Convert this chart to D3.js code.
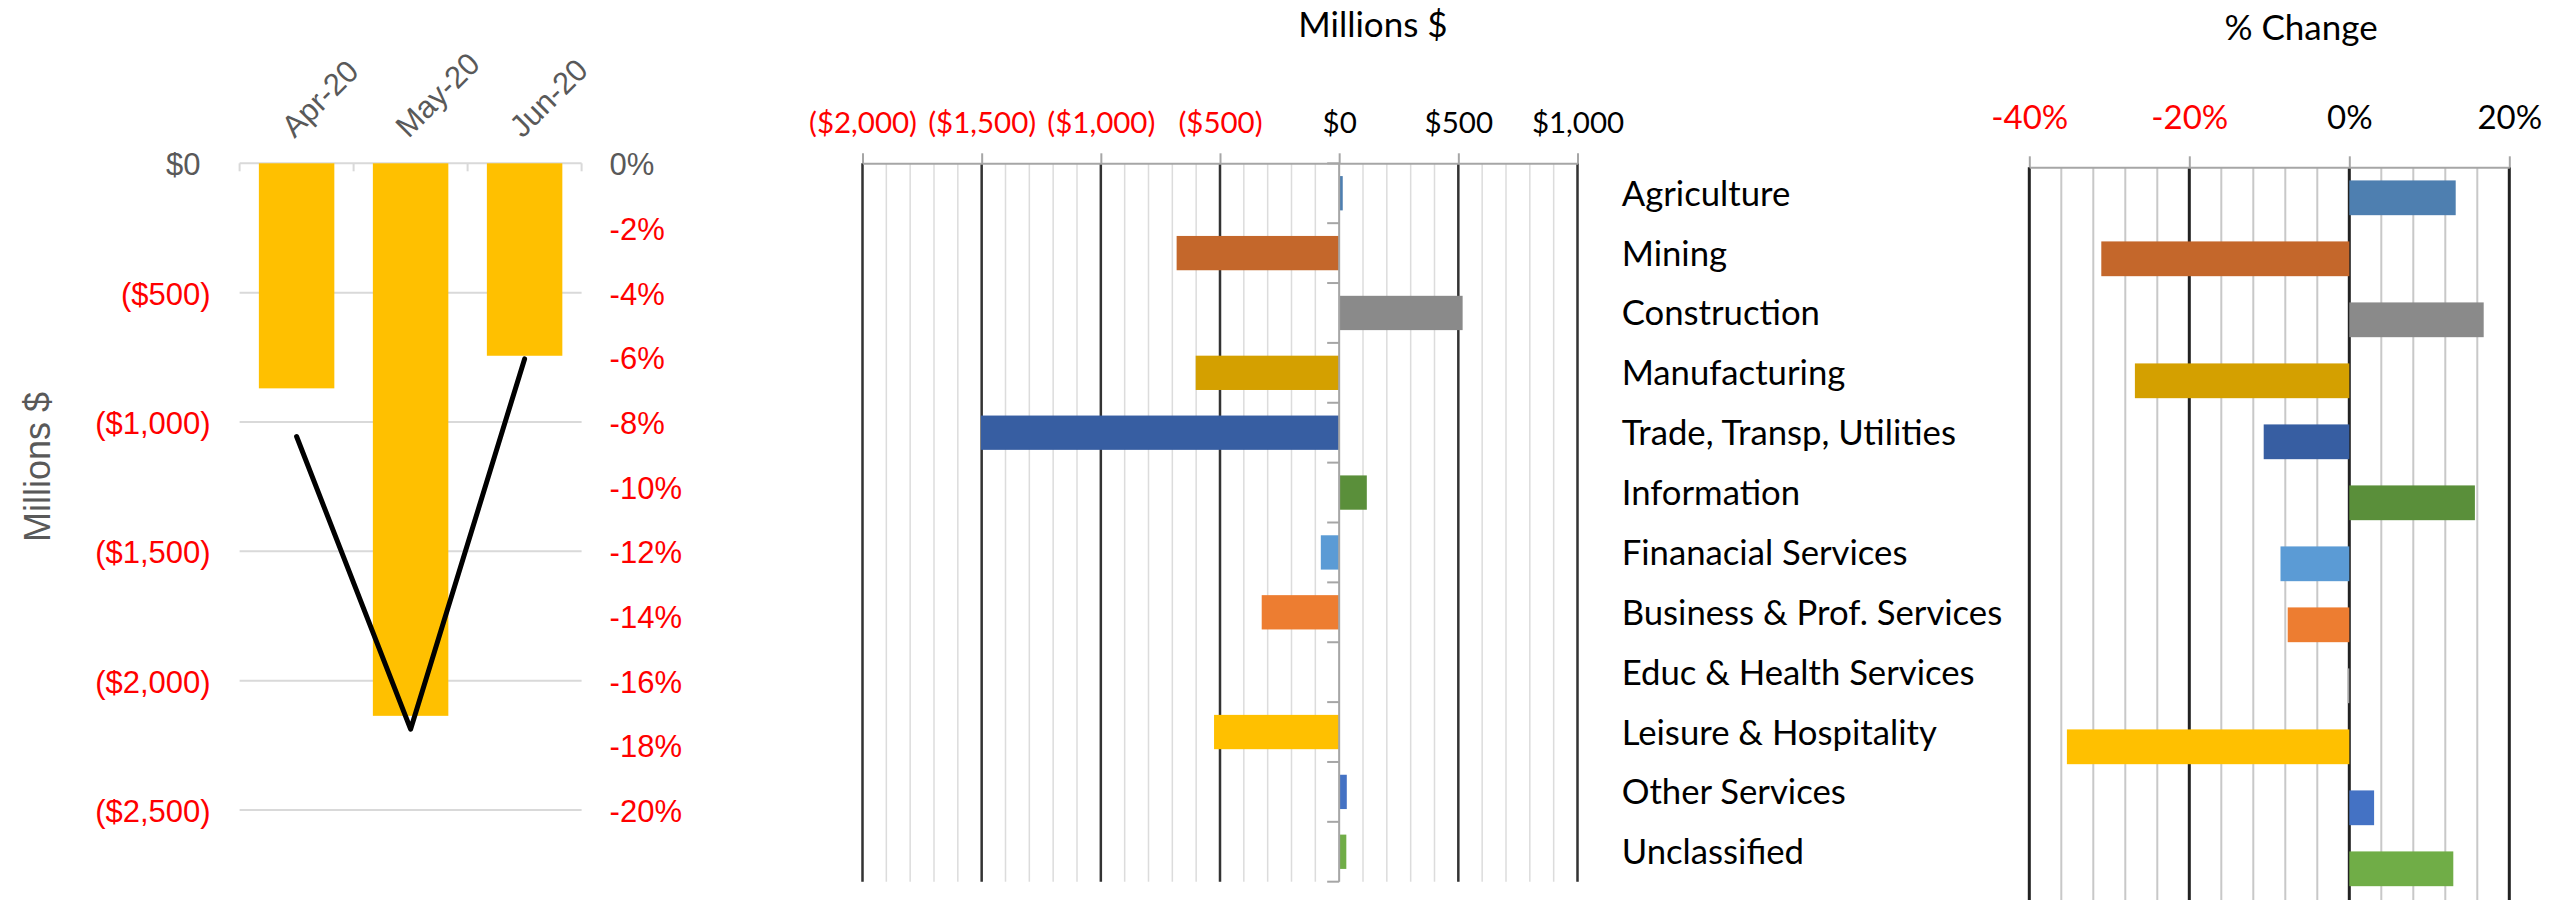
<!DOCTYPE html>
<html>
<head>
<meta charset="utf-8">
<script src="https://cdn.jsdelivr.net/npm/d3@7"></script>
<style>
  body { margin: 0; background: #fff; }
  svg { display: block; }
</style>
</head>
<body>
<div id="chart"></div>
<script>
// ---- data ----
var months = ["Apr-20", "May-20", "Jun-20"];
var monthChange = [-870, -2136, -744];      // millions $
var monthPct = [-8.45, -17.5, -6.05];        // % change
var monthTicks = [0, -500, -1000, -1500, -2000, -2500];
var monthPctTicks = [0, -2, -4, -6, -8, -10, -12, -14, -16, -18, -20];

var industries = ["Agriculture", "Mining", "Construction", "Manufacturing",
  "Trade, Transp, Utilities", "Information", "Finanacial Services",
  "Business & Prof. Services", "Educ & Health Services", "Leisure & Hospitality",
  "Other Services", "Unclassified"];
var industryChange = [15, -682, 518, -602, -1503, 116, -77, -325, 0, -525, 32, 30];
var industryPct = [13.3, -31.0, 16.8, -26.8, -10.7, 15.7, -8.6, -7.7, -0.2, -35.3, 3.1, 13.0];
var industryColors = ["#4e7fb0", "#c4672b", "#8a8a8a", "#d4a000", "#375ea2", "#5a8f3a",
  "#5b9bd5", "#ed7d31", "#a5a5a5", "#ffc000", "#4472c4", "#70ad47"];
var changeTicks = [-2000, -1500, -1000, -500, 0, 500, 1000];
var pctTicks = [-40, -20, 0, 20];

var W = 2552, H = 900;
var red = "#ff0000", grey = "#595959";
var calibri = "Lato, 'Open Sans', sans-serif";
var arial = "'Liberation Sans', Arial, sans-serif";

var money = function (v) {
  var s = "$" + d3.format(",")(Math.abs(v));
  return v < 0 ? "(" + s + ")" : s;
};

var svg = d3.select("#chart").append("svg")
  .attr("width", W).attr("height", H)
  .style("background", "#fff");

// ================= left: monthly change =================
var left = { x0: 239.6, x1: 581.6, y0: 163.3, y1: 810 };
var lx = d3.scaleBand().domain(months).range([left.x0, left.x1])
  .paddingInner(0.338).paddingOuter(0.169);
var ly = d3.scaleLinear().domain([0, -2500]).range([left.y0, left.y1]);
var ly2 = d3.scaleLinear().domain([0, -20]).range([left.y0, left.y1]);

var lg = svg.append("g");

lg.selectAll(".lgrid").data(monthTicks).enter().append("line")
  .attr("x1", left.x0).attr("x2", left.x1)
  .attr("y1", d => ly(d)).attr("y2", d => ly(d))
  .style("stroke", "#d9d9d9").style("stroke-width", 2);

// category tick marks on the top axis
lg.selectAll(".ltick").data(d3.range(months.length + 1)).enter().append("line")
  .attr("x1", i => left.x0 + i * lx.step()).attr("x2", i => left.x0 + i * lx.step())
  .attr("y1", left.y0).attr("y2", left.y0 + 8)
  .style("stroke", "#d9d9d9").style("stroke-width", 2);

lg.selectAll(".lbar").data(monthChange).enter().append("rect")
  .attr("x", (d, i) => lx(months[i]))
  .attr("width", lx.bandwidth())
  .attr("y", ly(0))
  .attr("height", d => ly(d) - ly(0))
  .style("fill", "#ffc000");

var line = d3.line()
  .x((d, i) => lx(months[i]) + lx.bandwidth() / 2)
  .y(d => ly2(d));
lg.append("path").datum(monthPct)
  .attr("d", line)
  .style("fill", "none").style("stroke", "#000")
  .style("stroke-width", 5)
  .style("stroke-linejoin", "round").style("stroke-linecap", "round");

var laxis = lg.append("g").attr("transform", "translate(" + left.x0 + ",0)")
  .call(d3.axisLeft(ly).tickValues(monthTicks).tickSize(0).tickPadding(29).tickFormat(money));
laxis.select(".domain").remove();
laxis.selectAll("text")
  .attr("font-family", arial).attr("font-size", 31).attr("dy", "0.37em")
  .attr("dx", d => d < 0 ? 0 : -10)
  .style("fill", d => d < 0 ? red : grey);

var raxis = lg.append("g").attr("transform", "translate(" + left.x1 + ",0)")
  .call(d3.axisRight(ly2).tickValues(monthPctTicks).tickSize(0).tickPadding(28)
    .tickFormat(d => d + "%"));
raxis.select(".domain").remove();
raxis.selectAll("text")
  .attr("font-family", arial).attr("font-size", 31).attr("dy", "0.37em")
  .style("fill", d => d < 0 ? red : grey);

lg.selectAll(".mlabel").data(months).enter().append("text")
  .attr("transform", d => "translate(" + (lx(d) + lx.bandwidth() / 2 - 2) + ",139) rotate(-45)")
  .attr("font-family", arial).attr("font-size", 31)
  .style("fill", grey)
  .text(d => d);

lg.append("text")
  .attr("transform", "translate(50,467) rotate(-90)")
  .attr("text-anchor", "middle")
  .attr("font-family", arial).attr("font-size", 36)
  .style("fill", grey)
  .text("Millions $");

// ================= middle: change by industry =================
var mid = { x0: 862.5, x1: 1577.5, y0: 163.3, y1: 881.7 };
var mx = d3.scaleLinear().domain([-2000, 1000]).range([mid.x0, mid.x1]);
var my = d3.scaleBand().domain(industries).range([mid.y0, mid.y1])
  .paddingInner(0.427).paddingOuter(0.2135);

var mg = svg.append("g");

mg.selectAll(".mminor").data(d3.range(-2000, 1001, 100)).enter().append("line")
  .attr("x1", d => mx(d)).attr("x2", d => mx(d))
  .attr("y1", mid.y0).attr("y2", mid.y1)
  .style("stroke", "#dcdcdc").style("stroke-width", 1.5);
mg.selectAll(".mmajor").data(changeTicks.filter(d => d !== 0)).enter().append("line")
  .attr("x1", d => mx(d)).attr("x2", d => mx(d))
  .attr("y1", mid.y0).attr("y2", mid.y1)
  .style("stroke", "#333").style("stroke-width", 2.5);

mg.selectAll(".mbar").data(industryChange).enter().append("rect")
  .attr("x", d => mx(Math.min(0, d)))
  .attr("width", d => Math.abs(mx(d) - mx(0)))
  .attr("y", (d, i) => my(industries[i]))
  .attr("height", my.bandwidth())
  .style("fill", (d, i) => industryColors[i]);

// vertical category axis at zero, ticks to the left between categories
mg.append("line")
  .attr("x1", mx(0)).attr("x2", mx(0)).attr("y1", mid.y0).attr("y2", mid.y1)
  .style("stroke", "#a6a6a6").style("stroke-width", 2);
mg.selectAll(".ctick").data(d3.range(industries.length + 1)).enter().append("line")
  .attr("x1", mx(0) - 12).attr("x2", mx(0))
  .attr("y1", i => mid.y0 + i * my.step()).attr("y2", i => mid.y0 + i * my.step())
  .style("stroke", "#a6a6a6").style("stroke-width", 2);

var maxis = mg.append("g").attr("transform", "translate(0," + mid.y0 + ")")
  .call(d3.axisTop(mx).tickValues(changeTicks).tickSize(10).tickSizeOuter(0)
    .tickPadding(20).tickFormat(money));
maxis.select(".domain").style("stroke", "#a6a6a6").style("stroke-width", 2);
maxis.selectAll(".tick line").style("stroke", "#a6a6a6").style("stroke-width", 2);
maxis.selectAll("text")
  .attr("font-family", calibri).attr("font-size", 29.5)
  .style("fill", d => d < 0 ? red : "#000");

mg.selectAll(".clabel").data(industries).enter().append("text")
  .attr("x", 1621.7)
  .attr("y", d => my(d) + my.bandwidth() / 2)
  .attr("dy", "0.36em")
  .attr("font-family", calibri).attr("font-size", 34.7)
  .style("fill", "#000")
  .text(d => d);

mg.append("text")
  .attr("x", 1373).attr("y", 37)
  .attr("text-anchor", "middle")
  .attr("font-family", calibri).attr("font-size", 35)
  .style("fill", "#000")
  .text("Millions $");

// ================= right: % change by industry =================
var rt = { x0: 2029.3, x1: 2509.3, y0: 167.3, y1: 899.3 };
var px = d3.scaleLinear().domain([-40, 20]).range([rt.x0, rt.x1]);
var py = d3.scaleBand().domain(industries).range([rt.y0, rt.y1])
  .paddingInner(0.43).paddingOuter(0.215);

var rg = svg.append("g");

rg.selectAll(".pminor").data(d3.range(-40, 21, 4)).enter().append("line")
  .attr("x1", d => px(d)).attr("x2", d => px(d))
  .attr("y1", rt.y0).attr("y2", H)
  .style("stroke", "#c8c8c8").style("stroke-width", 2);
rg.selectAll(".pmajor").data(pctTicks).enter().append("line")
  .attr("x1", d => px(d)).attr("x2", d => px(d))
  .attr("y1", rt.y0).attr("y2", H)
  .style("stroke", "#222").style("stroke-width", 3);

rg.selectAll(".pbar").data(industryPct).enter().append("rect")
  .attr("x", d => px(Math.min(0, d)))
  .attr("width", d => Math.abs(px(d) - px(0)))
  .attr("y", (d, i) => py(industries[i]))
  .attr("height", py.bandwidth())
  .style("fill", (d, i) => industryColors[i]);

var paxis = rg.append("g").attr("transform", "translate(0," + rt.y0 + ")")
  .call(d3.axisTop(px).tickValues(pctTicks).tickSize(11).tickSizeOuter(0)
    .tickPadding(27).tickFormat(d => d + "%"));
paxis.select(".domain").style("stroke", "#a6a6a6").style("stroke-width", 2);
paxis.selectAll(".tick line").style("stroke", "#a6a6a6").style("stroke-width", 2);
paxis.selectAll("text")
  .attr("font-family", calibri).attr("font-size", 33)
  .style("fill", d => d < 0 ? red : "#000");

rg.append("text")
  .attr("x", 2301).attr("y", 40)
  .attr("text-anchor", "middle")
  .attr("font-family", calibri).attr("font-size", 35)
  .style("fill", "#000")
  .text("% Change");
</script>
</body>
</html>
